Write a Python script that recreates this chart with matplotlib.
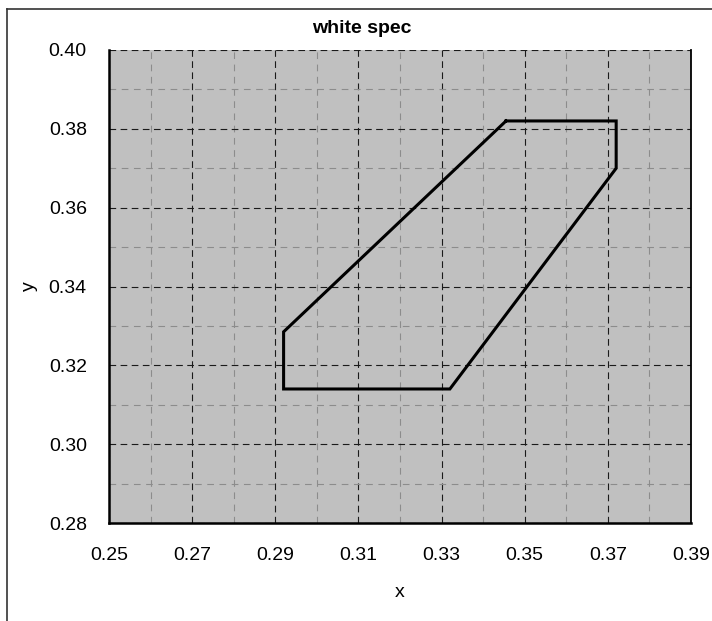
import matplotlib
matplotlib.use("Agg")
import matplotlib.pyplot as plt
from matplotlib.ticker import MultipleLocator, FormatStrFormatter
from matplotlib.lines import Line2D

plt.rcParams['font.family'] = ['Liberation Sans', 'DejaVu Sans']

# polygon vertices (closed)
spec_x = [0.3455, 0.372, 0.372, 0.332, 0.292, 0.292, 0.3455]
spec_y = [0.382, 0.382, 0.370, 0.314, 0.314, 0.3285, 0.382]

x_ticks = [0.25, 0.27, 0.29, 0.31, 0.33, 0.35, 0.37, 0.39]
y_ticks = [0.28, 0.30, 0.32, 0.34, 0.36, 0.38, 0.40]

W, H = 712, 621
fig = plt.figure(figsize=(W / 100, H / 100), dpi=100)
ax = fig.add_axes([109 / W, 1 - 523 / H, (691 - 109) / W, (523 - 50) / H])
ax.set_facecolor('#C0C0C0')

ax.set_xlim(x_ticks[0], x_ticks[-1])
ax.set_ylim(y_ticks[0], y_ticks[-1])
ax.set_xticks(x_ticks)
ax.set_yticks(y_ticks)
ax.xaxis.set_minor_locator(MultipleLocator(0.01))
ax.yaxis.set_minor_locator(MultipleLocator(0.01))
ax.xaxis.set_major_formatter(FormatStrFormatter('%.2f'))
ax.yaxis.set_major_formatter(FormatStrFormatter('%.2f'))

ax.grid(which='minor', color='#8c8c8c', linestyle=(0, (6, 5)), linewidth=0.8)
ax.grid(which='major', color='#1a1a1a', linestyle=(0, (6, 4)), linewidth=0.8)
ax.set_axisbelow(True)

ax.tick_params(which='both', length=0, labelsize=14)
ax.tick_params(axis='y', pad=16)
ax.tick_params(axis='x', pad=17.5)

for s in ['left', 'bottom']:
    ax.spines[s].set_linewidth(1.8)
    ax.spines[s].set_color('black')
ax.spines['right'].set_linewidth(1.3)
ax.spines['right'].set_color('black')
ax.spines['top'].set_visible(False)

ax.plot(spec_x, spec_y, color='black', linewidth=2.2, solid_joinstyle='miter')

ax.set_xlabel('x', fontsize=14, labelpad=14)
ax.set_ylabel('y', fontsize=14, labelpad=8)

fig.text(362 / W, 1 - 33 / H, 'white spec', ha='center', va='baseline',
         fontsize=14, fontweight='bold')

# outer chart border (only left and top edges visible)
fig.add_artist(Line2D([7 / W, 7 / W], [0, 1 - 9 / H], transform=fig.transFigure,
                      color='#333333', linewidth=1.2))
fig.add_artist(Line2D([7 / W, 1], [1 - 9 / H, 1 - 9 / H], transform=fig.transFigure,
                      color='#333333', linewidth=1.2))

fig.savefig('out.png', dpi=100)
